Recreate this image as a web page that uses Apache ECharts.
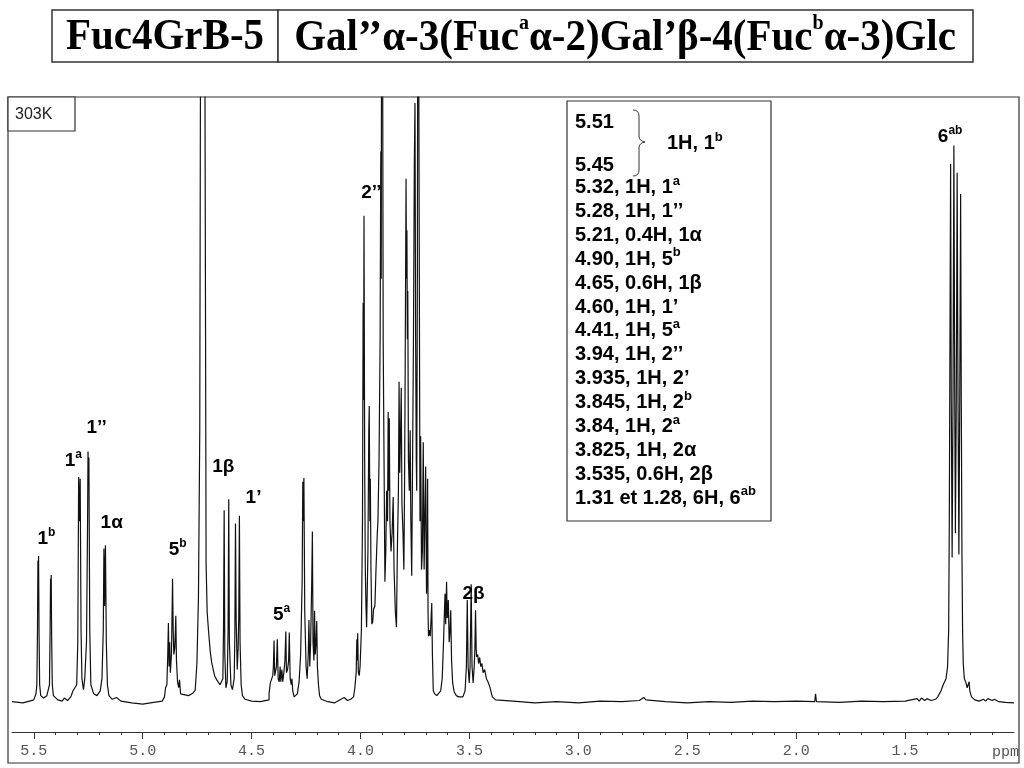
<!DOCTYPE html>
<html><head><meta charset="utf-8">
<script src="https://cdn.jsdelivr.net/npm/echarts@6/dist/echarts.min.js"></script>
<style>html,body{margin:0;padding:0;background:#fff}#c{width:1024px;height:768px}</style>
</head><body><div id="c"></div>
<script>
// ---------- DATA ----------
const titleLeft = 'Fuc4GrB-5';
const titleRight = '{t|Gal’’α-3(Fuc}{s|a}{t|α-2)Gal’β-4(Fuc}{s|b}{t|α-3)Glc}';
const tempLabel = '303K';
const axisUnit = 'ppm';
const majorTicks = [5.5, 5.0, 4.5, 4.0, 3.5, 3.0, 2.5, 2.0, 1.5];
const minorTicks = [5.4, 5.3, 5.2, 5.1, 4.9, 4.8, 4.7, 4.6, 4.4, 4.3, 4.2, 4.1, 3.9, 3.8, 3.7, 3.6,
  3.4, 3.3, 3.2, 3.1, 2.9, 2.8, 2.7, 2.6, 2.4, 2.3, 2.2, 2.1, 1.9, 1.8, 1.7, 1.6, 1.4, 1.3, 1.2, 1.1];

// spectrum segments: [ppm, relative intensity]
const segH1b = [[5.60,0.2],[5.55,0.0],[5.52,0.3],[5.50,0.5],[5.49,1.5],
  [5.486,3],[5.483,12],[5.481,23.5],[5.480,18],[5.478,24.3],[5.476,12],[5.473,3],[5.468,1.2],
  [5.455,0.8],[5.440,1.2],
  [5.428,3],[5.425,12],[5.423,20.5],[5.422,16],[5.420,21.1],[5.418,11],[5.415,3],[5.41,1.2],
  [5.39,0.5],[5.37,0.3],[5.36,0.8],[5.345,0.4],[5.33,1.0],[5.32,2.0]];
const segH1a = [[5.303,3],[5.298,10],[5.294,37.3],[5.291,30],[5.287,37.0],[5.283,12],[5.279,4],
  [5.272,2.2],[5.266,4],
  [5.258,10],[5.253,30],[5.251,41.5],[5.249,36],[5.247,40.5],[5.243,12],[5.238,3],
  [5.225,1.5],[5.21,1.2],[5.195,2],[5.187,4],
  [5.181,12],[5.178,25.5],[5.175,16],[5.171,26.0],[5.167,10],[5.162,3],[5.155,1.2],[5.14,0.6],
  [5.12,0.9],[5.10,0.3],[5.05,0.0],[5.00,-0.2],[4.95,0.1],[4.91,0.3]];
const segH5b = [[4.900,1.0],[4.895,2.5],[4.889,3],[4.885,8],[4.882,13.2],[4.879,6],[4.876,10],[4.873,5],
  [4.868,8],[4.865,15],[4.863,20.5],[4.860,12],[4.857,8],[4.853,9],[4.850,12],[4.848,14.4],[4.845,7],
  [4.840,3.5],[4.835,2.5],[4.831,3.8],[4.826,1.5],[4.820,1.8]];
const segHOD = [[4.790,1.2],[4.770,1.6],[4.759,2.1],[4.751,6.6],[4.744,17.5],[4.738,45],[4.735,100],
  [4.733,200],[4.725,400],[4.717,200],[4.714,100],[4.710,40],[4.709,23],[4.704,15],[4.698,12],
  [4.690,8.5],[4.683,6.6],[4.670,4.5],[4.660,3.8],[4.645,3.0],[4.637,2.7]];
const segH1beta = [[4.632,4],[4.629,12],[4.626,31.8],[4.623,8],[4.618,2.5],[4.612,3.5],[4.608,12],
  [4.605,33.6],[4.602,10],[4.595,3],[4.588,2.2],[4.580,4],[4.577,11],[4.574,29.6],[4.571,14],
  [4.566,5.5],[4.562,9],[4.559,14],[4.556,30.9],[4.553,10],[4.548,3],[4.542,1.2],[4.53,0.6],
  [4.50,0.3],[4.46,0.2],[4.42,0.5]];
const segH5a = [[4.420,1.5],[4.414,3.3],[4.408,3.0],[4.403,4.5],[4.400,6],[4.397,10.3],[4.394,4.5],
  [4.390,4.5],[4.386,6],[4.382,10.5],[4.378,4],[4.373,3.5],[4.369,6],[4.366,3.5],[4.361,5.5],
  [4.357,3.5],[4.352,5],[4.347,7],[4.343,11.8],[4.340,5],[4.335,5.5],[4.330,7],[4.327,11.6],
  [4.323,4],[4.318,3],[4.315,4],[4.311,2.0],[4.305,1.0],[4.298,0.9]];
const segH42 = [[4.290,1.5],[4.282,3.5],[4.275,8],[4.268,20],[4.265,36.5],[4.262,30],[4.260,37.1],
  [4.256,15],[4.250,6],[4.245,4],[4.240,8],[4.237,13.7],[4.233,6],[4.229,10],[4.224,20],[4.221,28.3],
  [4.218,10],[4.214,7],[4.211,15.2],[4.208,8],[4.204,10],[4.201,13.5],[4.198,6],[4.193,3],[4.188,1.2],
  [4.180,0.6],[4.15,0.2],[4.12,0.0],[4.09,0.6],[4.075,0.9],[4.06,0.4],[4.045,0.6]];
const segCluster = [[4.032,1.0],[4.026,2.5],[4.020,5],[4.017,10.5],[4.015,7],[4.013,11.5],[4.010,5],
  [4.006,4.5],[4.002,6],[3.996,12],[3.991,30],[3.988,66],[3.986,50],[3.984,80.4],[3.981,40],
  [3.978,22],[3.975,16],[3.972,12.5],[3.966,25],[3.962,45],[3.960,49],[3.957,30],[3.955,37],
  [3.952,22],[3.948,13],[3.944,13.4],[3.940,15.5],[3.934,16],[3.929,22],[3.923,28],[3.920,30],
  [3.915,40],[3.910,60],[3.907,91],[3.905,70],[3.902,150],[3.899,120],[3.896,60],[3.892,40],
  [3.888,20],[3.884,25],[3.880,35],[3.876,30],[3.873,48],[3.870,35],[3.868,47],[3.865,30],
  [3.860,25],[3.855,28],[3.850,34],[3.846,22],[3.840,15],[3.835,12.5],[3.831,25],[3.826,35],
  [3.823,53],[3.820,38],[3.816,45],[3.813,52],[3.810,33],[3.805,28],[3.801,22],[3.798,35],
  [3.795,55],[3.791,86.5],[3.789,70],[3.787,78],[3.785,60],[3.783,68],[3.780,40],[3.776,35],
  [3.772,45],[3.769,30],[3.765,21],[3.761,40],[3.757,60],[3.753,89],[3.750,99],[3.747,60],
  [3.744,40],[3.742,35],[3.739,70],[3.736,150],[3.733,150],[3.730,70],[3.727,30],[3.724,44],
  [3.720,22],[3.716,25],[3.712,43],[3.708,22],[3.704,22],[3.701,39],[3.697,18],[3.694,22],
  [3.692,37],[3.690,15],[3.688,11],[3.684,12],[3.680,11],[3.676,14],[3.673,16.5],[3.670,8],
  [3.666,2],[3.660,1.5],[3.650,1.2],[3.645,1.3]];
const segH36 = [[3.632,2],[3.625,4],[3.619,10],[3.614,16],[3.612,18],[3.609,13],[3.605,20],[3.602,14],
  [3.599,15],[3.597,17],[3.593,10],[3.589,12],[3.586,15.3],[3.582,7],[3.577,3.3],[3.570,1.8],
  [3.560,1.2],[3.550,1.0]];
const segH2beta = [[3.530,1.0],[3.520,2],[3.514,6],[3.510,17],[3.506,6],[3.501,3.3],[3.497,6],
  [3.492,19.6],[3.488,6],[3.483,3.3],[3.478,6],[3.475,9],[3.472,15.3],[3.469,9],[3.467,7.6],
  [3.462,8],[3.458,6.5],[3.453,7.5],[3.448,6],[3.443,6.5],[3.437,5],[3.430,5.5],[3.422,4],
  [3.415,3.5],[3.406,2.6],[3.395,1.0],[3.38,0.5]];
const segBase = [[3.30,0.3],[3.20,0.0],[3.10,0.2],[3.00,0.0],[2.90,0.3],[2.80,0.2],[2.72,0.4],
  [2.70,0.9],[2.69,0.5],[2.60,0.2],[2.50,0.0],[2.40,0.2],[2.30,0.1],[2.20,0.3],[2.10,0.2],[2.00,0.3],
  [1.915,0.2],[1.911,1.5],[1.907,0.2],[1.80,0.1],[1.70,0.3],[1.60,0.2],[1.50,0.3],
  [1.445,0.7],[1.435,0.3],[1.425,0.8],[1.41,0.4],[1.40,0.7],[1.38,0.4],[1.36,0.6],[1.35,1.0]];
const segH6 = [[1.345,1.2],[1.335,2],[1.325,3],[1.312,4],[1.305,6],[1.300,12],[1.297,30],[1.294,60],
  [1.291,89],[1.288,50],[1.284,24],[1.280,50],[1.276,92],[1.272,50],[1.269,28],[1.265,50],
  [1.261,87.5],[1.257,50],[1.253,24.5],[1.249,50],[1.245,84],[1.242,50],[1.239,25],[1.236,12],
  [1.233,6.5],[1.228,4],[1.222,3.5],[1.215,2.5],[1.210,2.2],[1.206,3.5],[1.203,2.0],[1.195,1.0],
  [1.18,0.5],[1.16,0.3],[1.14,0.6],[1.13,0.3],[1.12,0.7],[1.10,0.4],[1.09,0.6],[1.07,0.2],
  [1.04,0.1],[1.00,0.0]];

// peak annotations
const peakLabelText = ['{n|1}{s|b}','{n|1}{s|a}','{n|1’’}','{n|1α}','{n|5}{s|b}','{n|1β}','{n|1’}','{n|5}{s|a}','{n|2’’}','{n|2β}','{n|6}{s|ab}'];
const peakLabelPpm  = [5.440, 5.316, 5.209, 5.140, 4.837, 4.628, 4.489, 4.360, 3.948, 3.479, 1.291];
const peakLabelInt  = [27.2, 40.1, 45.6, 29.9, 25.4, 39.1, 34.0, 14.7, 84.3, 18.2, 93.6];

// assignment table
const assignLines = ['5.51','5.45','5.32, 1H, 1{s|a}','5.28, 1H, 1’’','5.21, 0.4H, 1α','4.90, 1H, 5{s|b}',
  '4.65, 0.6H, 1β','4.60, 1H, 1’','4.41, 1H, 5{s|a}','3.94, 1H, 2’’','3.935, 1H, 2’','3.845, 1H, 2{s|b}',
  '3.84, 1H, 2{s|a}','3.825, 1H, 2α','3.535, 0.6H, 2β','1.31 et 1.28, 6H, 6{s|ab}'];
const assignBrace = '1H, 1{s|b}';

// ---------- CHART ----------
const spectrum = [].concat(segH1b, segH1a, segH5b, segHOD, segH1beta, segH5a, segH42,
  segCluster, segH36, segH2beta, segBase, segH6);
const SANS = '"Liberation Sans", Arial, sans-serif';
const SERIF = '"Liberation Serif", "Times New Roman", serif';
const INK = '#000';

const chart = echarts.init(document.getElementById('c'), null, {renderer: 'canvas'});

function tokenRich(size, sup) {
  return {
    n: {fontSize: size, fontWeight: 'bold', fontFamily: SANS, color: INK, fill: INK, lineHeight: size + 3, verticalAlign: 'bottom',
        textBorderWidth: 0, textBorderColor: 'transparent'},
    s: {fontSize: sup, fontWeight: 'bold', fontFamily: SANS, color: INK, fill: INK, lineHeight: sup, verticalAlign: 'top',
        textBorderWidth: 0, textBorderColor: 'transparent'}
  };
}
function richText(t) {
  return '{n|' + t.replace(/\{s\|([^}]*)\}/g, '}{s|$1}{n|') + '}';
}

const graphics = [];
// title boxes
graphics.push({type: 'rect', shape: {x: 52, y: 10, width: 226, height: 52}, style: {fill: '#fff', stroke: '#333', lineWidth: 1.5}});
graphics.push({type: 'rect', shape: {x: 278, y: 10, width: 695, height: 52}, style: {fill: '#fff', stroke: '#333', lineWidth: 1.5}});
graphics.push({type: 'text', x: 165, y: 37, scaleY: 1.1, style: {text: titleLeft, fill: '#000', fontFamily: SERIF, fontWeight: 'bold', fontSize: 41, align: 'center', verticalAlign: 'middle'}});
graphics.push({type: 'text', x: 625, y: 37, scaleY: 1.1, style: {text: titleRight, align: 'center', verticalAlign: 'middle',
  rich: {t: {fontFamily: SERIF, fontWeight: 'bold', fontSize: 41, fill: '#000', lineHeight: 44, verticalAlign: 'bottom'},
         s: {fontFamily: SERIF, fontWeight: 'bold', fontSize: 20, fill: '#000', lineHeight: 28, verticalAlign: 'top'}}}});
// plot frame
graphics.push({type: 'rect', shape: {x: 8, y: 97, width: 1011, height: 666}, style: {fill: 'none', stroke: '#333', lineWidth: 1.2}, z: 10});
graphics.push({type: 'rect', shape: {x: 8, y: 97, width: 67, height: 34}, style: {fill: '#fff', stroke: '#333', lineWidth: 1.2}, z: 10});
graphics.push({type: 'text', x: 15, y: 115, z: 11, style: {text: tempLabel, fill: '#222', fontFamily: SANS, fontSize: 16, align: 'left', verticalAlign: 'middle'}});
// ppm unit
graphics.push({type: 'text', x: 992, y: 752, z: 11, style: {text: axisUnit, fill: '#555', fontFamily: '"Liberation Mono", monospace', fontSize: 15, align: 'left', verticalAlign: 'middle'}});
// assignment box
graphics.push({type: 'rect', shape: {x: 567, y: 101, width: 204, height: 420}, style: {fill: '#fff', stroke: '#333', lineWidth: 1.2}, z: 10});
const lineYs = [121, 164, 186, 209.9, 233.8, 257.7, 281.6, 305.5, 329.4, 353.3, 377.2, 401.1, 425, 448.9, 472.8, 496.7];
assignLines.forEach((t, i) => {
  graphics.push({type: 'text', x: 575, y: lineYs[i], z: 11, style: {text: richText(t), align: 'left', verticalAlign: 'middle', rich: tokenRich(20, 13)}});
});
graphics.push({type: 'text', x: 667, y: 142, z: 11, style: {text: richText(assignBrace), align: 'left', verticalAlign: 'middle', rich: tokenRich(20, 13)}});
// brace
const braceStyle = {fill: 'none', stroke: '#333', lineWidth: 1};
graphics.push({type: 'bezierCurve', z: 11, shape: {x1: 633, y1: 110, cpx1: 639, cpy1: 110, x2: 639, y2: 116}, style: braceStyle});
graphics.push({type: 'line', z: 11, shape: {x1: 639, y1: 116, x2: 639, y2: 136}, style: braceStyle});
graphics.push({type: 'bezierCurve', z: 11, shape: {x1: 639, y1: 136, cpx1: 639, cpy1: 141, x2: 645, y2: 142}, style: braceStyle});
graphics.push({type: 'bezierCurve', z: 11, shape: {x1: 645, y1: 142, cpx1: 639, cpy1: 143, x2: 639, y2: 148}, style: braceStyle});
graphics.push({type: 'line', z: 11, shape: {x1: 639, y1: 148, x2: 639, y2: 170}, style: braceStyle});
graphics.push({type: 'bezierCurve', z: 11, shape: {x1: 639, y1: 170, cpx1: 639, cpy1: 176, x2: 633, y2: 176}, style: braceStyle});

const option = {
  animation: false,
  backgroundColor: '#fff',
  grid: {left: 12, right: 10, top: 97, bottom: 36},
  xAxis: [{
    type: 'value', min: 1.0, max: 5.6, interval: 0.5, inverse: true, position: 'bottom',
    axisLine: {show: true, onZero: false, lineStyle: {color: '#333', width: 1}},
    axisTick: {show: true, length: 7, customValues: majorTicks, lineStyle: {color: '#333', width: 1}},
    axisLabel: {show: true, customValues: majorTicks, margin: 12, fontFamily: '"Liberation Mono", monospace', fontSize: 15, color: '#555',
      formatter: v => (v > 5.55 || v < 1.05) ? '' : v.toFixed(1)},
    splitLine: {show: false}
  }, {
    type: 'value', min: 1.0, max: 5.6, interval: 0.1, inverse: true, position: 'bottom', offset: 0,
    axisLine: {show: false, onZero: false},
    axisTick: {show: true, length: 3, customValues: minorTicks, lineStyle: {color: '#333', width: 1}},
    axisLabel: {show: false},
    splitLine: {show: false}
  }],
  yAxis: {type: 'value', min: -4.8, max: 100, show: false},
  graphic: graphics,
  series: [{
    type: 'line', xAxisIndex: 0, data: spectrum, showSymbol: false, symbol: 'none', clip: true, silent: true,
    lineStyle: {color: '#111', width: 1.2}
  }, {
    type: 'scatter', xAxisIndex: 0, data: peakLabelPpm.map((p, i) => [p, peakLabelInt[i]]), symbolSize: 1,
    itemStyle: {color: '#fff', opacity: 1}, silent: true, z: 5,
    label: {show: true, position: [0, 0], align: 'center', verticalAlign: 'middle', formatter: p => peakLabelText[p.dataIndex],
      color: INK, fontFamily: SANS, fontWeight: 'bold', fontSize: 19, textBorderWidth: 0, opacity: 1,
      rich: tokenRich(19, 12)}
  }]
};
chart.setOption(option);
</script></body></html>
